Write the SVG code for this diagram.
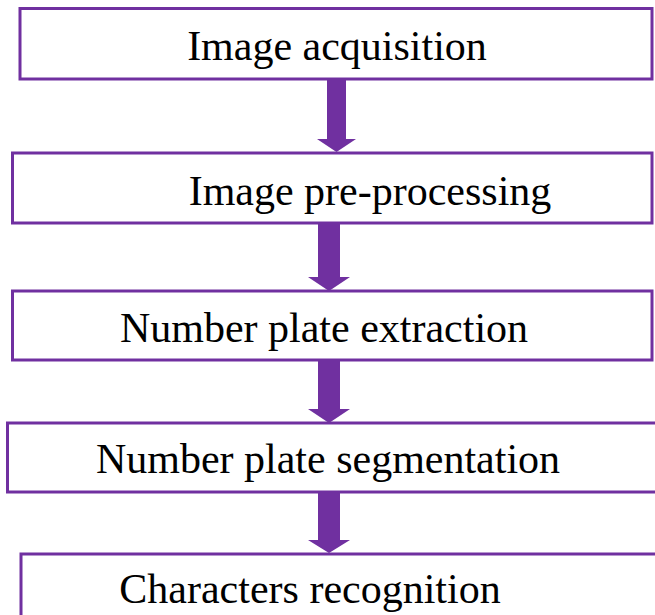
<svg xmlns="http://www.w3.org/2000/svg" width="655" height="615" viewBox="0 0 655 615">
<style>
.box{fill:#fff;stroke:#7030A0;stroke-width:3}
.lbl{font-family:"Liberation Serif","Times New Roman",serif;font-size:42px;fill:#000;text-anchor:middle}
.arr{fill:#7030A0}
</style>
<rect width="655" height="615" fill="#fff"/>
<g id="connectors">
<path class="arr" d="M327,79 H346 V139 H356 L336.5,152 L317,139 H327 Z"/>
<path class="arr" d="M318,223 H340 V277 H350 L329,291 L308,277 H318 Z"/>
<path class="arr" d="M318,360 H340 V409 H350 L329,423 L308,409 H318 Z"/>
<path class="arr" d="M318,492 H340 V540 H350 L329,553 L308,540 H318 Z"/>
</g>
<g id="n1"><rect class="box" x="20" y="8.5" width="632" height="70.5"/><text class="lbl" x="337" y="60">Image acquisition</text></g>
<g id="n2"><rect class="box" x="12.5" y="153" width="639.5" height="70"/><text class="lbl" x="370" y="205">Image pre-processing</text></g>
<g id="n3"><rect class="box" x="12.5" y="291" width="639.5" height="69"/><text class="lbl" x="324" y="342">Number plate extraction</text></g>
<g id="n4"><rect class="box" x="7.5" y="423" width="650" height="69"/><text class="lbl" x="328" y="473">Number plate segmentation</text></g>
<g id="n5"><rect class="box" x="21" y="554" width="640" height="70"/><text class="lbl" x="310" y="603">Characters recognition</text></g>
</svg>
